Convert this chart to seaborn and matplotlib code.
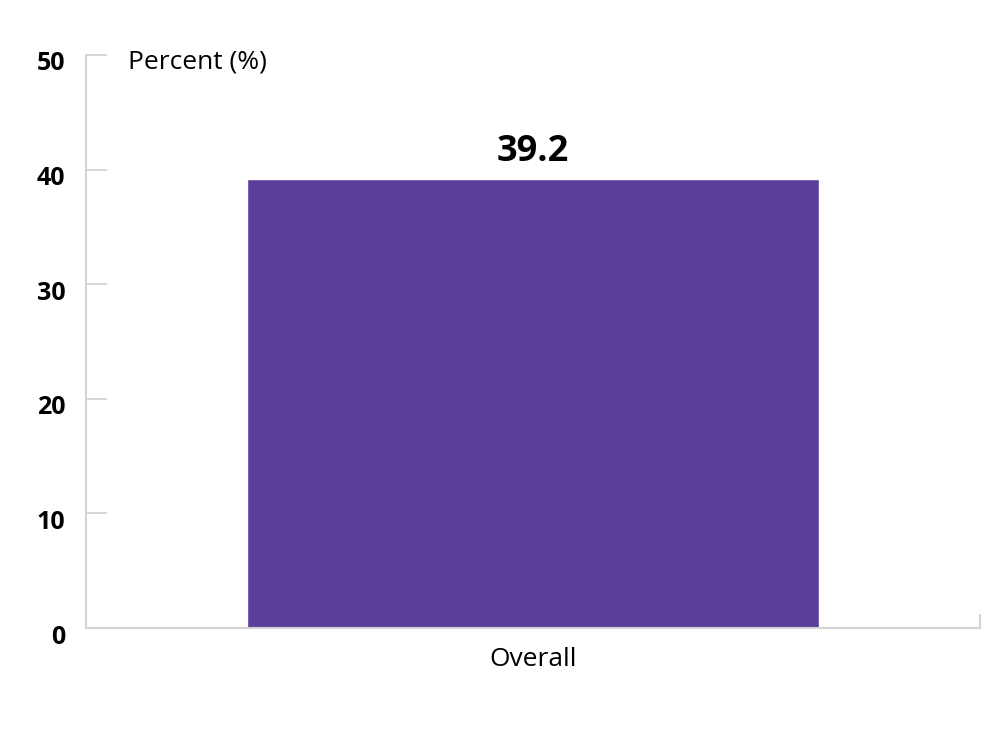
import pandas as pd
import seaborn as sns
import matplotlib.pyplot as plt
import matplotlib.transforms as mtransforms

categories = ['Overall']
values = [39.2]
y_ticks = [0, 10, 20, 30, 40, 50]

BAR_COLOR = '#5a3e98'
AXIS_COLOR = '#d4d4d4'

sns.set_style('white')
plt.rcParams['font.family'] = ['Open Sans', 'DejaVu Sans']
plt.rcParams['text.color'] = 'black'
plt.rcParams['xtick.color'] = 'black'
plt.rcParams['ytick.color'] = 'black'

frame = pd.DataFrame({'group': categories, 'percent': values})

fig = plt.figure(figsize=(10, 7.31), dpi=100)
ax = fig.add_axes([0.086, 0.1409, 0.894, 0.7839])
sns.barplot(data=frame, x='group', y='percent', color=BAR_COLOR, width=0.64,
            saturation=1, ax=ax)

ax.set_xlim(-0.5, 0.5)
ax.set_ylim(0, 50)
ax.set_yticks(y_ticks)
ax.set_yticklabels([str(t) for t in y_ticks], fontsize=18, fontweight='bold')
ax.tick_params(axis='y', left=True, direction='in', length=15, width=1.3,
               color=AXIS_COLOR, labelcolor='black', pad=15)
# labels sit a little below their tick marks
shift = mtransforms.ScaledTranslation(0, -6 / 100, fig.dpi_scale_trans)
for lbl in ax.get_yticklabels():
    lbl.set_transform(lbl.get_transform() + shift)

ax.tick_params(axis='x', which='major', length=0, pad=14, labelsize=19,
               labelcolor='black')
ax.set_xticks([0.5], minor=True)
ax.tick_params(axis='x', which='minor', bottom=True, direction='in', length=10,
               width=1.5, color=AXIS_COLOR)
ax.set_xlabel('')
ax.set_ylabel('')

for side in ['top', 'right']:
    ax.spines[side].set_visible(False)
for side in ['left', 'bottom']:
    ax.spines[side].set_color(AXIS_COLOR)
    ax.spines[side].set_linewidth(1.5)

for bar, v in zip(ax.patches, values):
    ax.text(bar.get_x() + bar.get_width() / 2, v + 0.8, f'{v}', ha='center',
            va='bottom', fontsize=26, fontweight='bold', color='black')

ax.text(0.047, 0.988, 'Percent (%)', transform=ax.transAxes, ha='left',
        va='center', fontsize=19, color='black')

fig.savefig('out.png', dpi=100)
